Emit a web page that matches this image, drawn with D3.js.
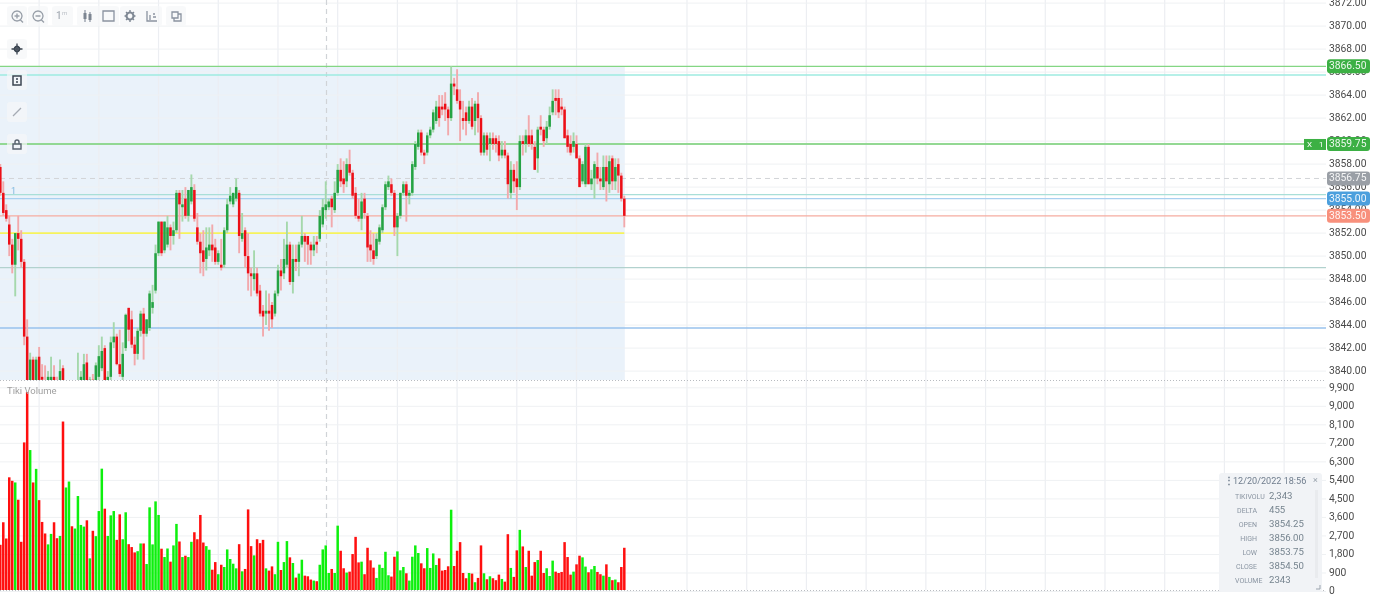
<!DOCTYPE html>
<html>
<head>
<meta charset="utf-8">
<script src="https://cdn.jsdelivr.net/npm/d3@7"></script>
<style>
html, body { margin: 0; padding: 0; background: #fff; overflow: hidden; }
#chart { width: 1373px; height: 594px; }
svg { display: block; font-family: Roboto, sans-serif; filter: blur(0.7px); }
</style>
</head>
<body>
<div id="chart"></div>
<script>
// candles, oldest first (prices, below 3839 is hidden by the panel edge)
var opens = [3857.75,3855.5,3854,3852.75,3851,3849.25,3852,3851.5,3849.5,3843,3838,3841,3838,3841.25,3839.5,3839,3838,3838.5,3839.5,3839,
    3838.5,3840.25,3837,3837.5,3838.5,3837.5,3838,3838.5,3838.5,3840.75,3838.75,3839.25,3838.5,3839.5,3840.25,3842,3838.5,3839.5,3842.5,3843,
    3840.6,3839.5,3842,3845.5,3844.5,3842.3,3841.5,3843.5,3845,3843.25,3843.75,3845.5,3847,3850.25,3853,3850.5,3851,3852.5,3851.75,3852.25,
    3855.5,3854.25,3855,3853.5,3854.75,3855.75,3852.5,3851.25,3850.5,3849.75,3850.5,3851,3850.75,3849.5,3849.25,3849.25,3852.25,3854.75,3854.5,3855,
    3855.5,3851.5,3852.25,3850,3848.5,3848,3848.5,3847,3845.25,3845,3845.25,3845.75,3845,3846.75,3848.75,3848.5,3849.25,3851,3847.75,3849.75,
    3849.5,3851,3851.75,3851.75,3851,3850.5,3851.25,3851.5,3852.75,3854,3854.25,3855,3854,3855.5,3857.5,3856.75,3856.5,3858,3857.25,3855.5,
    3853.5,3853.25,3855,3853.5,3851,3850.5,3850,3851.25,3852.25,3854.25,3856,3856.25,3855.5,3852.5,3853.5,3855.5,3856.25,3855.25,3855.5,3857.75,
    3859.5,3860.75,3859,3859,3860.5,3861,3861.75,3863,3863,3863.25,3862.75,3862,3865,3864.5,3863.5,3862,3862.5,3861.75,3863,3861.75,
    3863.25,3862,3859,3860.5,3859.75,3860.25,3860.25,3860,3858.75,3859.25,3858.75,3855.5,3857.5,3856.75,3856,3860,3859.75,3860.5,3860.5,3859.5,
    3858.5,3861.25,3861,3860.25,3861.25,3862.5,3863.75,3863.75,3863,3862.75,3860.5,3859.75,3859.5,3859.75,3858.5,3856.5,3856.25,3859.5,3856.25,3856.75,
    3857.75,3856.75,3856,3857.75,3856.25,3858.5,3856.5,3858,3857,3855];
var highs = [3858,3856.5,3854.5,3853.5,3851.5,3852,3853.5,3852.25,3849.75,3844.5,3841.6,3841.25,3841.25,3842.1,3840.6,3840.5,3840,3841.25,3840.5,3839.5,
    3841,3840.5,3838.5,3838.75,3838.8,3838.9,3841.6,3840,3841.5,3841.5,3839.5,3839.75,3840.75,3842.25,3843,3842.25,3840,3843,3844.25,3843.25,
    3843.6,3842.5,3845,3845.5,3845.25,3843,3843.75,3845.25,3845.5,3844.5,3847,3847.5,3851,3853,3853,3853,3853.5,3852.75,3853,3855.75,
    3855.75,3855.75,3856,3855.75,3857.1,3856.25,3853.75,3852,3852.25,3852.5,3852.5,3852.75,3851.5,3850.5,3851.5,3852.5,3855,3856,3855.5,3856.75,
    3855.75,3853.75,3852.5,3852,3849,3850.5,3849,3847.5,3845.75,3847,3846.75,3846,3847,3849.25,3849.75,3851.5,3853,3851.25,3851,3851,
    3851.25,3853.5,3852,3851.75,3851.25,3851.75,3851.75,3854,3855,3856.5,3855,3855.25,3856.5,3858,3858.5,3858.25,3858.5,3859.25,3857.5,3856,
    3855,3855.5,3855.5,3853.75,3852.25,3852,3852,3852.75,3854.5,3856.5,3857,3856.75,3855.75,3853.75,3855.5,3856.5,3856.5,3855.75,3858.25,3860,
    3861,3861,3859.25,3860.75,3861.25,3862.75,3863.5,3864,3864,3864.25,3863,3866.5,3865.5,3866.25,3864.5,3863.5,3863,3863.5,3863.75,3863.5,
    3864.25,3862.25,3860.75,3860.75,3860.75,3860.75,3860.5,3860.5,3860,3860,3859,3858.25,3858,3858.25,3860.5,3860.5,3861,3862.25,3861,3860,
    3861.25,3862.25,3861.25,3861.75,3863,3864.5,3864.5,3864.5,3863.75,3863,3861,3860.5,3860.75,3860.5,3858.75,3858.25,3859.75,3859.75,3857.5,3858.25,
    3859,3857.75,3858.75,3858.75,3858.75,3858.75,3858.5,3858.5,3857.25,3855.25];
var lows = [3855.25,3853.5,3853,3850,3848.5,3846.5,3850.5,3849,3842.25,3838,3837.5,3837.5,3837.5,3838,3838.5,3838,3837.5,3838,3838,3838,
    3838,3838,3836.5,3837,3837,3837,3837.5,3838,3838,3838,3838.5,3838,3838,3839,3840,3838.5,3838,3839,3842,3840.5,
    3839.5,3839,3841.75,3842.6,3842,3840.5,3841,3843,3841,3843,3843.5,3845,3846.75,3850,3850,3850.25,3850.75,3850.5,3851,3852,
    3851.5,3853,3853.25,3853,3854.5,3853,3851,3848.5,3848.25,3848.75,3850,3849.5,3849.25,3849.25,3848.75,3849,3852,3854.5,3854.25,3854.75,
    3850.25,3851.25,3849,3847,3846.5,3847,3846.5,3844.75,3843,3844,3843.5,3843.75,3844.75,3846.5,3847,3848,3849,3847.5,3846.75,3848.7,
    3848.25,3850.75,3849.5,3849.25,3849.25,3850,3850.25,3851.25,3852.5,3853.25,3854,3852.5,3853.75,3855.25,3856,3855.5,3856,3857,3855,3853.25,
    3853,3852.25,3853.25,3849.5,3849.5,3849.25,3849.75,3851,3852,3854,3855.75,3855.25,3851.75,3850,3853.25,3855.25,3853,3854.5,3855.25,3857.5,
    3859.25,3858.75,3858,3858.75,3860.25,3860.75,3861.5,3861.25,3862.25,3861.75,3860.5,3861.75,3864,3863.25,3860,3861,3860.5,3861.5,3861,3860.5,
    3860.75,3858.75,3858.75,3858.75,3858.25,3859.25,3859,3858.25,3858.5,3858.5,3855,3855,3855.5,3854,3855.75,3858.75,3859,3859.5,3859.25,3857.5,
    3857.25,3860.5,3859.5,3859.75,3861,3862.25,3862.25,3862,3862.25,3860.25,3859,3858.75,3859,3858.5,3856,3856.25,3856,3856.25,3855.75,3855,
    3856.25,3855.75,3855.75,3854.75,3855.5,3855.75,3855.75,3855.5,3854.75,3852.5];
var closes = [3855.5,3853.75,3853.25,3851,3849.25,3852,3851.5,3849.5,3843,3839,3841,3838,3841,3838.5,3839.25,3838.5,3839.5,3839.5,3838.5,3838.5,
    3840,3838.5,3838,3838.5,3837.5,3838.5,3839,3839.5,3840.6,3838.5,3839.25,3838.5,3840.5,3841.3,3841.75,3839,3839.5,3842.5,3843,3840.6,
    3839.75,3841.5,3844.9,3843.6,3842.3,3841.5,3843.5,3845,3843.25,3844.5,3846.75,3846,3850.25,3853,3850.25,3853,3852.5,3851.75,3852.25,3855.5,
    3854.5,3854.5,3853.5,3855.75,3856,3853.25,3851.25,3850.25,3849.5,3850.75,3851,3850.5,3849.5,3850.25,3849,3852.25,3854.5,3855.25,3855.5,3856,
    3851.75,3852,3850,3848.5,3848.25,3848.5,3846.75,3845,3844.75,3845.25,3845,3844.5,3846.75,3848.75,3848.25,3849.75,3851,3847.75,3849.75,3849.5,
    3851,3851.75,3851.25,3851,3850.5,3851,3851,3853.5,3854.25,3854.5,3854.75,3854.25,3855.5,3857.5,3856.5,3856.25,3858,3857.25,3855.25,3853.5,
    3853.25,3854.75,3853.75,3850.75,3850.5,3849.75,3851.5,3852.5,3854.25,3856.25,3856.5,3855.5,3852.5,3853.5,3855.5,3856.25,3855.25,3855.5,3858,3859.75,
    3860.75,3859,3858.75,3860.5,3861,3862.5,3863,3862,3862.75,3862.75,3862,3865,3864.75,3863.5,3862.75,3861.75,3861.75,3863,3861.25,3863.25,
    3862,3859,3860.5,3859.25,3860.25,3859.75,3859.75,3858.75,3859.25,3858.75,3856.25,3857.5,3856.5,3856,3860,3859.75,3860.5,3859.75,3859.75,3857.5,
    3861,3861,3860,3861.25,3862.25,3863.5,3863.5,3862.5,3862.75,3860.25,3859.5,3859,3860,3858.5,3856,3858,3859.5,3856.25,3856.75,3858,
    3856.75,3856.5,3857.75,3856.5,3858.25,3856.5,3857.75,3857,3855,3853.5];
var volumes = [2270,3365,2576,5550,5380,5300,4460,2415,7245,9690,6875,5300,5960,4440,3380,2820,2290,2800,3365,2590,
    2700,8260,5055,5345,3170,3060,4640,3235,3155,3460,1610,2950,2690,3910,5970,4025,2700,3700,3910,2510,
    3750,2540,3850,2300,2160,1900,1960,2335,2335,1335,4090,2290,4380,3720,2080,1675,2090,1450,2240,3285,
    2430,1675,1740,1675,2415,2880,2540,3720,2380,2205,2030,1060,1430,840,1300,1190,2045,1580,1350,1125,
    2300,980,1095,3990,2205,1755,2540,2350,2510,1125,1015,1220,840,2415,1045,1430,2450,1660,1385,675,
    870,1545,770,740,580,530,500,1300,2045,2240,900,1095,900,3200,1980,1130,920,965,1820,2655,
    1415,1450,840,2125,1515,1160,660,1305,1145,1930,790,725,1690,1950,1030,1190,885,530,1690,2240,
    1870,1370,1130,2110,1145,1850,1290,1610,1015,1045,1225,3975,1240,1980,2400,900,645,900,870,450,
    660,2240,885,595,740,645,550,820,610,480,2785,1145,710,2000,2995,2190,1190,1980,770,1430,
    1530,1980,900,1130,755,1500,965,900,950,2400,1675,820,965,1320,1740,1660,1210,935,1080,1240,
    950,840,770,1320,710,550,580,450,1190,2125];

var priceTicks = [3872,3870,3868,3866,3864,3862,3860,3858,3856,3854,3852,3850,3848,3846,3844,3842,3840];
var volumeTicks = [0,900,1800,2700,3600,4500,5400,6300,7200,8100,9000,9900];

// candle slots that carry a vertical grid line (the data stops at 209, the time axis goes on)
var gridSlots = [13,33,53,73,93,113,133,153,173,193,230,250,270,290,310,330,350,370,390,410,430];

// order lines: price, colour, whether it stops at the last candle
var linePrices = [3866.5,3865.75,3859.75,3855.35,3855,3853.5,3852,3849,3843.75];
var lineColors = ['#84d684','#9eebe0','#93d893','#a9dfd8','#a8d0f0','#f6aca0','#f6f35c','#b2d2ce','#98c2ec'];
var lineWidths = [1.4,1.4,1.9,1.4,1.4,1.2,1.7,1.4,1.4];
var lineStops = [false,false,false,false,false,false,true,false,false];

var tagPrices = [3866.5,3859.75,3856.75,3855,3853.5];
var tagColors = ['#3cb044','#3cb044','#9a9fa6','#4b9fdd','#f8907c'];

var infoLabels = ['TIKIVOLU','DELTA','OPEN','HIGH','LOW','CLOSE','VOLUME'];
var infoValues = ['2,343','455','3854.25','3856.00','3853.75','3854.50','2343'];

var width = 1373, height = 594;
var plotRight = 1326, lastCandleX = 624.3, pricePanelBottom = 380, volumePanelBottom = 590;

var x = d3.scaleLinear().domain([0, opens.length - 1]).range([0.3, lastCandleX]);
var y = d3.scaleLinear().domain([3840, 3872]).range([371.1, 3.1]);
var yVol = d3.scaleLinear().domain([0, 9900]).range([591.5, 387.8]);

var svg = d3.select('#chart').append('svg').attr('width', width).attr('height', height);

var defs = svg.append('defs');
defs.append('clipPath').attr('id', 'priceClip').append('rect')
    .attr('width', plotRight).attr('height', pricePanelBottom);
defs.append('clipPath').attr('id', 'volClip').append('rect')
    .attr('y', pricePanelBottom).attr('width', plotRight).attr('height', volumePanelBottom - pricePanelBottom);

// shaded session
svg.append('rect')
    .attr('x', 0).attr('y', y(3866.5))
    .attr('width', lastCandleX + 0.5).attr('height', pricePanelBottom - y(3866.5))
    .attr('fill', '#eaf2fa');

// grid
svg.append('g').selectAll('line').data(gridSlots).enter().append('line')
    .attr('x1', x).attr('x2', x).attr('y1', 0).attr('y2', volumePanelBottom)
    .attr('stroke', '#eceef2').attr('stroke-width', 1.2);
svg.append('g').selectAll('line').data(priceTicks).enter().append('line')
    .attr('x1', 0).attr('x2', plotRight)
    .attr('y1', y).attr('y2', y)
    .attr('stroke', '#eff1f3');
svg.append('g').selectAll('line').data(volumeTicks).enter().append('line')
    .attr('x1', 0).attr('x2', plotRight)
    .attr('y1', yVol).attr('y2', yVol)
    .attr('stroke', '#eff1f3');

// crosshair
svg.append('line').attr('x1', 326.5).attr('x2', 326.5).attr('y1', 0).attr('y2', volumePanelBottom)
    .attr('stroke', '#d0d3d7').attr('stroke-width', 1.2).attr('stroke-dasharray', '5,4');

// panel separators
[pricePanelBottom + 0.5, volumePanelBottom + 0.5].forEach(function (d) {
    svg.append('line').attr('x1', 0).attr('x2', plotRight).attr('y1', d).attr('y2', d)
        .attr('stroke', '#b8bbc0').attr('stroke-dasharray', '1,2');
});

// price lines
svg.append('line').attr('x1', 0).attr('x2', plotRight).attr('y1', y(3856.75)).attr('y2', y(3856.75))
    .attr('stroke', '#d2d4d7').attr('stroke-dasharray', '5,4');
svg.append('g').selectAll('line').data(linePrices).enter().append('line')
    .attr('x1', 0)
    .attr('x2', function (d, i) { return lineStops[i] ? lastCandleX : plotRight; })
    .attr('y1', y).attr('y2', y)
    .attr('stroke', function (d, i) { return lineColors[i]; })
    .attr('stroke-width', function (d, i) { return lineWidths[i]; });

// candles
var candles = svg.append('g').attr('clip-path', 'url(#priceClip)');
var isUp = function (i) { return closes[i] >= opens[i]; };

candles.selectAll('.wick').data(opens).enter().append('line')
    .attr('class', 'wick')
    .attr('x1', function (d, i) { return x(i); })
    .attr('x2', function (d, i) { return x(i); })
    .attr('y1', function (d, i) { return y(highs[i]); })
    .attr('y2', function (d, i) { return y(lows[i]); })
    .attr('stroke', function (d, i) { return isUp(i) ? '#a5d8ac' : '#f2a9ac'; })
    .attr('stroke-width', 1.9);

candles.selectAll('.body').data(opens).enter().append('rect')
    .attr('class', 'body')
    .attr('x', function (d, i) { return x(i) - 1.25; })
    .attr('width', 2.5)
    .attr('y', function (d, i) { return y(Math.max(d, closes[i])); })
    .attr('height', function (d, i) { return Math.max(1, Math.abs(y(d) - y(closes[i]))); })
    .attr('fill', function (d, i) { return isUp(i) ? '#25a344' : '#ec0f17'; });

// volume
svg.append('g').attr('clip-path', 'url(#volClip)')
    .selectAll('rect').data(volumes).enter().append('rect')
    .attr('x', function (d, i) { return x(i) - 1.25; })
    .attr('width', 2.5)
    .attr('y', function (d) { return yVol(d); })
    .attr('height', function (d) { return yVol(0) - yVol(d); })
    .attr('fill', function (d, i) { return isUp(i) ? '#0df00d' : '#ff0f0f'; });

svg.append('text').attr('x', 7).attr('y', 394).attr('font-size', 9.5).attr('fill', '#a0a0a0').text('Tiki Volume');
svg.append('text').attr('x', 11).attr('y', 194).attr('font-size', 9).attr('fill', '#7fb8e0').text('1');

// axis labels
var axisText = svg.append('g').attr('font-size', 10.3).attr('fill', '#4a4a4a');
axisText.selectAll('.p').data(priceTicks).enter().append('text')
    .attr('class', 'p')
    .attr('x', 1329).attr('y', function (d) { return y(d) - 0.8; }).attr('dy', '.35em')
    .text(function (d) { return d3.format('.2f')(d); });
axisText.selectAll('.v').data(volumeTicks).enter().append('text')
    .attr('class', 'v')
    .attr('x', 1329).attr('y', function (d) { return yVol(d) - 0.8; }).attr('dy', '.35em')
    .text(d3.format(','));

// price tags
var tags = svg.append('g').selectAll('g').data(tagPrices).enter().append('g');
tags.append('rect')
    .attr('x', 1327).attr('width', 43).attr('height', 14).attr('rx', 3)
    .attr('y', function (d) { return y(d) - 7; })
    .attr('fill', function (d, i) { return tagColors[i]; });
tags.append('text')
    .attr('x', 1329).attr('y', function (d) { return y(d) - 0.6; }).attr('dy', '.35em')
    .attr('font-size', 10.3).attr('fill', '#fff').attr('fill-opacity', 0.9)
    .text(function (d) { return d3.format('.2f')(d); });

// X 1 box on the open position
svg.append('rect').attr('x', 1304).attr('width', 22).attr('y', y(3859.75) - 5).attr('height', 11).attr('fill', '#3cb044');
svg.append('text').attr('x', 1307).attr('y', y(3859.75) + 3.4).attr('font-size', 8).attr('fill', '#fff').text('X');
svg.append('text').attr('x', 1319).attr('y', y(3859.75) + 3.4).attr('font-size', 8).attr('fill', '#fff').text('1');

// tooltip
var info = svg.append('g');
info.append('rect').attr('x', 1219).attr('y', 473).attr('width', 103).attr('height', 119).attr('rx', 3).attr('fill', '#f1f3f6');
info.append('rect').attr('x', 1315).attr('y', 490).attr('width', 3).attr('height', 88).attr('fill', '#e9ebee');
info.append('text').attr('x', 1233).attr('y', 484).attr('font-size', 9.1).attr('fill', '#6f7d8d').text('12/20/2022 18:56');
info.append('text').attr('x', 1224).attr('y', 484).attr('font-size', 10).attr('font-weight', 700).attr('fill', '#6f7d8d').text('⋮');
info.append('text').attr('x', 1313).attr('y', 483).attr('font-size', 9).attr('fill', '#9aa3ad').text('×');
info.append('path').attr('d', 'M1320 585v4h-4').attr('fill', 'none').attr('stroke', '#9aa3ad');
var rowY = d3.scalePoint().domain(infoLabels).range([499, 583]);
info.selectAll('.label').data(infoLabels).enter().append('text')
    .attr('class', 'label')
    .attr('x', function (d) { return d.length > 5 ? 1235 : 1257; })
    .attr('y', function (d) { return rowY(d) - 0.5; })
    .attr('text-anchor', function (d) { return d.length > 5 ? 'start' : 'end'; })
    .attr('font-size', 7).attr('fill', '#8a95a2')
    .text(String);
info.selectAll('.value').data(infoValues).enter().append('text')
    .attr('class', 'value')
    .attr('x', 1269)
    .attr('y', function (d, i) { return rowY(infoLabels[i]); })
    .attr('font-size', 9.6).attr('fill', '#76848f')
    .text(String);

// toolbar
var tools = svg.append('g');
var toolBg = [[7, 6, 20, 20], [28, 6, 20, 20], [52, 6, 21, 20], [77, 6, 42, 20], [120, 6, 42, 20], [166, 6, 20, 20],
    [7, 39, 20, 20], [7, 70, 20, 20], [7, 102, 20, 20], [7, 134, 20, 20]];
tools.selectAll('rect').data(toolBg).enter().append('rect')
    .attr('x', function (d) { return d[0]; }).attr('y', function (d) { return d[1]; })
    .attr('width', function (d) { return d[2]; }).attr('height', function (d) { return d[3]; })
    .attr('rx', 3).attr('fill', '#f5f6f8').attr('fill-opacity', 0.7);
// icon outlines, with the stroke colour each one has in the toolbar
var toolPaths = [
    ['M17 11a5 5 0 1 0 .01 0M20.5 20l2.5 2.5M14.5 16h5M17 13.5v5', '#9aa1aa', 1.4],
    ['M38 11a5 5 0 1 0 .01 0M41.5 20l2.5 2.5M35.5 16h5', '#9aa1aa', 1.4],
    ['M85 10v12M90 12v10', '#8a93a0', 1.2],
    ['M85 13v6M90 14v6', '#7d8692', 3],
    ['M103 11h11v10h-11z', '#8a93a0', 1.3],
    ['M130 12.5a3.5 3.5 0 1 0 .01 0', '#7f8894', 2.2],
    ['M130 10v2M130 20v2M124.5 16h1.5M134 16h1.5M126 12l1 1M133 19l1 1M134 12l-1 1M127 19l-1 1', '#7f8894', 1.4],
    ['M147 11v10h10M150 20v-5M153 17h3M153 14h2', '#8a93a0', 1.3],
    ['M172 12h6v6h-6zM178 14h3v7h-7v-3', '#8a93a0', 1.3],
    ['M17 43.5v11M11.5 49h11', '#3c4652', 1.3],
    ['M17 46.5a2.5 2.5 0 1 0 .01 0', '#3c4652', 1.8],
    ['M13 76h8v9h-8zM16 79h2M16 82h2', '#3c4652', 1.5],
    ['M13 116l8-8', '#a5abb3', 1.3],
    ['M13 144h8v5h-8zM15 144v-2a2 2 0 0 1 4 0v2', '#59636f', 1.4]
];
tools.selectAll('path').data(toolPaths).enter().append('path')
    .attr('d', function (d) { return d[0]; })
    .attr('fill', 'none')
    .attr('stroke', function (d) { return d[1]; })
    .attr('stroke-width', function (d) { return d[2]; });
svg.append('text').attr('x', 56).attr('y', 19).attr('font-size', 10).attr('font-weight', 500).attr('fill', '#a9afb7').text('1');
svg.append('text').attr('x', 62).attr('y', 15).attr('font-size', 6).attr('fill', '#bcc1c7').text('m');
</script>
</body>
</html>
